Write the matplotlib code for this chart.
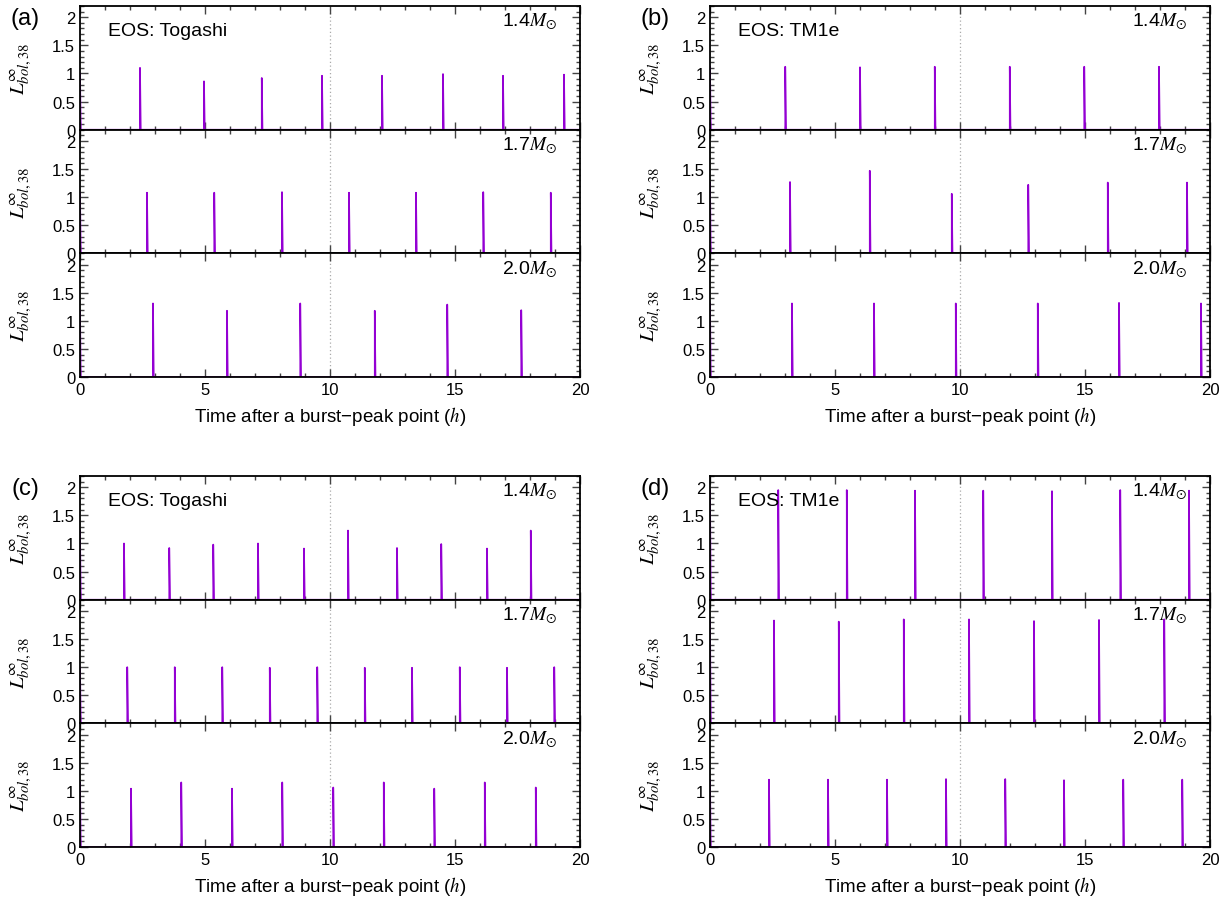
import matplotlib
matplotlib.use('Agg')
import matplotlib.pyplot as plt
from matplotlib.ticker import MultipleLocator, FuncFormatter

plt.rcParams['font.family'] = ['Liberation Sans', 'DejaVu Sans']
plt.rcParams['mathtext.fontset'] = 'stix'

# burst peak times (h) and peak luminosities
# panel (a): Togashi
a14_t = [0.0, 2.40, 4.96, 7.27, 9.68, 12.08, 14.52, 16.92, 19.36]
a14_h = [1.00, 1.10, 0.86, 0.92, 0.96, 0.96, 0.99, 0.96, 0.98]
a17_t = [0.0, 2.68, 5.37, 8.08, 10.76, 13.44, 16.13, 18.83]
a17_h = [1.08, 1.08, 1.08, 1.09, 1.08, 1.08, 1.09, 1.08]
a20_t = [0.0, 2.92, 5.88, 8.81, 11.79, 14.69, 17.65]
a20_h = [1.18, 1.31, 1.18, 1.31, 1.18, 1.29, 1.19]
# panel (b): TM1e
b14_t = [0.0, 3.01, 6.00, 8.99, 11.99, 14.97, 17.96]
b14_h = [1.12, 1.12, 1.11, 1.12, 1.12, 1.12, 1.12]
b17_t = [0.0, 3.20, 6.39, 9.67, 12.73, 15.91, 19.08]
b17_h = [1.26, 1.27, 1.47, 1.06, 1.22, 1.26, 1.26]
b20_t = [0.0, 3.28, 6.56, 9.83, 13.11, 16.36, 19.64]
b20_h = [1.31, 1.31, 1.31, 1.31, 1.31, 1.32, 1.31]
# panel (c): Togashi
c14_t = [0.0, 1.76, 3.57, 5.33, 7.12, 8.96, 10.72, 12.68, 14.45, 16.28, 18.03]
c14_h = [1.23, 1.00, 0.92, 0.98, 1.00, 0.91, 1.23, 0.92, 0.99, 0.91, 1.23]
c17_t = [0.0, 1.89, 3.79, 5.69, 7.59, 9.49, 11.39, 13.28, 15.19, 17.08, 18.97]
c17_h = [1.00, 1.00, 1.00, 1.00, 0.99, 1.00, 0.99, 0.99, 1.00, 0.99, 1.00]
c20_t = [0.0, 2.04, 4.05, 6.08, 8.09, 10.13, 12.15, 14.17, 16.19, 18.23]
c20_h = [1.15, 1.04, 1.15, 1.04, 1.15, 1.06, 1.15, 1.04, 1.15, 1.06]
# panel (d): TM1e
d14_t = [0.0, 2.73, 5.47, 8.20, 10.93, 13.68, 16.41, 19.16]
d14_h = [1.95, 1.95, 1.95, 1.94, 1.94, 1.93, 1.95, 1.94]
d17_t = [0.0, 2.56, 5.15, 7.75, 10.36, 12.96, 15.56, 18.17]
d17_h = [1.84, 1.83, 1.81, 1.85, 1.85, 1.82, 1.84, 1.85]
d20_t = [0.0, 2.36, 4.72, 7.08, 9.44, 11.81, 14.16, 16.53, 18.89]
d20_h = [1.20, 1.20, 1.20, 1.20, 1.21, 1.21, 1.19, 1.20, 1.20]

masses = ['1.4', '1.7', '2.0']

W, H = 1227, 903
fig = plt.figure(figsize=(W / 100, H / 100), dpi=100)

def px_axes(x0, y0, w, h):
    return fig.add_axes([x0 / W, 1 - (y0 + h) / H, w / W, h / H])

def light_curve(times, peaks, tail=0.03):
    # fast rise, short decay for every burst
    xs, ys = [], []
    for t, p in zip(times, peaks):
        xs += [t, t, t + tail]
        ys += [0, p, 0]
    xs.append(20.5)
    ys.append(0)
    return xs, ys

panels = [
    ('(a)', 'EOS: Togashi', 80, 7, [(a14_t, a14_h), (a17_t, a17_h), (a20_t, a20_h)]),
    ('(b)', 'EOS: TM1e', 710, 7, [(b14_t, b14_h), (b17_t, b17_h), (b20_t, b20_h)]),
    ('(c)', 'EOS: Togashi', 80, 477, [(c14_t, c14_h), (c17_t, c17_h), (c20_t, c20_h)]),
    ('(d)', 'EOS: TM1e', 710, 477, [(d14_t, d14_h), (d17_t, d17_h), (d20_t, d20_h)]),
]

sub_w, sub_h = 500, 123.7
fmt = FuncFormatter(lambda v, pos: '%g' % v)

for tag, eos, x0, y0, series in panels:
    for k, (times, peaks) in enumerate(series):
        ax = px_axes(x0, y0 + k * sub_h, sub_w, sub_h)
        xs, ys = light_curve(times, peaks)
        ax.axvline(10, color='#aaaaaa', ls=(0, (1, 2)), lw=0.9, zorder=1)
        ax.plot(xs, ys, color='#9400d3', lw=1.2, zorder=2)
        ax.set_xlim(0, 20)
        ax.set_ylim(0, 2.2)
        ax.xaxis.set_major_locator(MultipleLocator(5))
        ax.xaxis.set_minor_locator(MultipleLocator(1))
        ax.yaxis.set_major_locator(MultipleLocator(0.5))
        ax.yaxis.set_minor_locator(MultipleLocator(0.1))
        ax.yaxis.set_major_formatter(fmt)
        ax.xaxis.set_major_formatter(fmt)
        ax.tick_params(which='both', direction='in', top=True, right=True,
                       labelsize=12, width=1.0, color='#444444')
        ax.tick_params(which='major', length=6)
        ax.tick_params(which='minor', length=3)
        for sp in ax.spines.values():
            sp.set_linewidth(1.3)
        if k < 2:
            ax.tick_params(labelbottom=False)
        else:
            ax.set_xlabel('Time after a burst\u2212peak point ($h$)', fontsize=13.5, labelpad=5)
        ax.set_ylabel(r'$L^{\infty}_{bol,38}$', fontsize=15)
        ax.yaxis.set_label_coords(-0.094, 0.5)
        ax.text(0.954, 0.84, masses[k] + r'$M_{\odot}$', transform=ax.transAxes,
                ha='right', va='baseline', fontsize=14)
        if k == 0:
            ax.text(0.056, 0.766, eos, transform=ax.transAxes,
                    ha='left', va='baseline', fontsize=14)
    fig.text((x0 - 55) / W, 1 - (y0 + 12) / H, tag, ha='center', va='center', fontsize=17)

fig.savefig('out.png', dpi=100)
